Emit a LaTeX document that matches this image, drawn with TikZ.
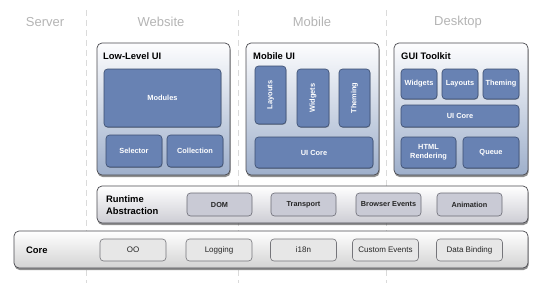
\documentclass[tikz,border=0pt]{standalone}
\usepackage{fontspec}
\setmainfont{Liberation Sans}
\usetikzlibrary{shadows}
\definecolor{colhead}{HTML}{B4B4B4}
\definecolor{guide}{HTML}{DADADA}
\definecolor{boxline}{HTML}{4A4A50}
\definecolor{bluetop}{HTML}{FDFDFE}
\definecolor{bluebot}{HTML}{9EAFCB}
\definecolor{grayTop}{HTML}{FFFFFF}
\definecolor{grayBot}{HTML}{CDCDD4}
\definecolor{coreBot}{HTML}{D3D3D3}
\definecolor{modfill}{HTML}{6882B3}
\definecolor{modline}{HTML}{3B4D70}
\definecolor{rtfill}{HTML}{C9CAD5}
\definecolor{rtline}{HTML}{6A6A74}
\definecolor{cofill}{HTML}{E7E7E7}
\definecolor{coline}{HTML}{75757A}
\tikzset{
  colhead/.style={text=colhead, font=\fontsize{13}{15}\selectfont},
  guideline/.style={draw=guide, line width=1pt, dash pattern=on 6pt off 4pt},
  layer/.style={draw=boxline, line width=0.7pt, rounded corners=5pt, inner sep=0pt, outer sep=0pt,
    drop shadow={shadow xshift=0.6pt, shadow yshift=-2pt, opacity=0.55, fill=black!80}},
  uilayer/.style={layer, top color=bluetop, bottom color=bluebot},
  rtlayer/.style={layer, top color=grayTop, bottom color=grayBot},
  corelayer/.style={layer, top color=grayTop, bottom color=coreBot},
  layertitle/.style={font=\bfseries\fontsize{9.4}{12}\selectfont, text=black, inner sep=0pt},
  modtext/.style={text=white, align=center, inner sep=0pt, font=\bfseries\fontsize{7.4}{9}\selectfont},
  module/.style={modtext, draw=modline, fill=modfill, line width=0.6pt, rounded corners=3.5pt,
    outer sep=0pt,
    drop shadow={shadow xshift=0.4pt, shadow yshift=-0.8pt, opacity=0.3, fill=black}},
  uprightlabel/.style={modtext, rotate=90},
  rtitem/.style={draw=rtline, fill=rtfill, line width=0.6pt, rounded corners=3.5pt,
    inner sep=0pt, outer sep=0pt, minimum width=65pt, minimum height=23pt,
    text=black!85, font=\bfseries\fontsize{7.3}{9}\selectfont},
  coitem/.style={draw=coline, fill=cofill, line width=0.6pt, rounded corners=3.5pt,
    inner sep=0pt, outer sep=0pt, minimum width=66pt, minimum height=22pt,
    text=black!85, font=\fontsize{8}{9}\selectfont},
}
\begin{document}
\begin{tikzpicture}[x=1pt, y=-1pt]
\useasboundingbox (0,0) rectangle (540,295);

% column guides
\foreach \gx/\gn in {86/ga, 238/gb, 386/gc} {
  \coordinate (\gn top) at (\gx,10);
  \coordinate (\gn bot) at (\gx,283);
  \draw[guideline] (\gn top) -- (\gn bot);
}

% column headings
\node[colhead] (hserver)  at (45,22)  {Server};
\node[colhead] (hweb)     at (161,22) {Website};
\node[colhead] (hmobile)  at (312,22) {Mobile};
\node[colhead] (hdesktop) at (458,22) {Desktop};

% core layer
\node[corelayer, minimum width=514pt, minimum height=37pt] (core) at (271,249.5) {};
\node[layertitle, anchor=west] (coretitle) at (26,250) {Core};
\node[coitem] (oo)      at (133,250)   {OO};
\node[coitem] (logging) at (219,250)   {Logging};
\node[coitem] (intl)    at (303.5,250) {i18n};
\node[coitem] (cevents) at (385.5,250) {Custom Events};
\node[coitem] (binding) at (469.5,250) {Data Binding};

% runtime abstraction layer
\node[rtlayer, minimum width=431pt, minimum height=37pt] (runtime) at (312.5,204.5) {};
\node[layertitle, anchor=west, align=left] (rttitle) at (106,205) {Runtime\\Abstraction};
\node[rtitem] (dom)       at (219.5,204.5) {DOM};
\node[rtitem] (transport) at (303.5,204.5) {Transport};
\node[rtitem] (bevents)   at (388.5,204.5) {Browser Events};
\node[rtitem] (animation) at (469.5,204.5) {Animation};

% website: low-level UI
\node[uilayer, minimum width=133pt, minimum height=132pt] (lowui) at (163.5,109) {};
\node[layertitle, anchor=base west] (lowtitle) at (103,59) {Low-Level UI};
\node[module, minimum width=117pt, minimum height=58pt] (modules)    at (162.5,98) {Modules};
\node[module, minimum width=56pt, minimum height=32pt]  (selector)   at (134,151)  {Selector};
\node[module, minimum width=56pt, minimum height=32pt]  (collection) at (195,151)  {Collection};

% mobile: mobile UI
\node[uilayer, minimum width=133pt, minimum height=132pt] (mobui) at (312.5,109) {};
\node[layertitle, anchor=base west] (mobtitle) at (253,59) {Mobile UI};
\node[module, minimum width=31pt, minimum height=58pt] (mlayouts) at (270.5,95) {};
\node[uprightlabel] (mlayoutslbl) at (mlayouts.center) {Layouts};
\node[module, minimum width=32pt, minimum height=58pt] (mwidgets) at (313,98) {};
\node[uprightlabel] (mwidgetslbl) at (mwidgets.center) {Widgets};
\node[module, minimum width=31pt, minimum height=58pt] (mtheming) at (354.5,98) {};
\node[uprightlabel] (mthemelbl) at (mtheming.center) {Theming};
\node[module, minimum width=118pt, minimum height=31pt] (mcore) at (314,152.5) {UI Core};

% desktop: GUI toolkit
\node[uilayer, minimum width=134pt, minimum height=132pt] (gui) at (461,109) {};
\node[layertitle, anchor=base west] (guititle) at (401,59) {GUI Toolkit};
\node[module, minimum width=36pt, minimum height=30pt]  (gwidgets) at (419,84)    {Widgets};
\node[module, minimum width=36pt, minimum height=30pt]  (glayouts) at (460,84)    {Layouts};
\node[module, minimum width=36pt, minimum height=30pt]  (gtheming) at (501,84)    {Theming};
\node[module, minimum width=118pt, minimum height=22pt] (gcore)    at (460,116)   {UI Core};
\node[module, minimum width=55pt, minimum height=31pt]  (ghtml)    at (428.5,152.5) {HTML\\Rendering};
\node[module, minimum width=56pt, minimum height=31pt]  (gqueue)   at (491,152.5) {Queue};
\end{tikzpicture}
\end{document}
